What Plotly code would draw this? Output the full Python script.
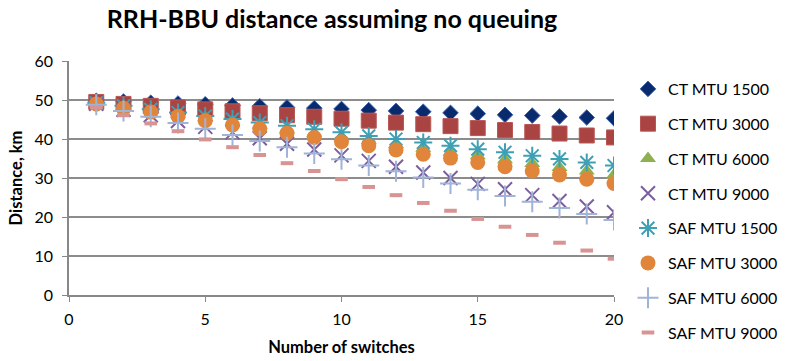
import plotly.graph_objects as go

switches = list(range(1, 21))

ct_mtu_1500 = [49.8, 49.6, 49.3, 49.1, 48.9, 48.6, 48.4, 48.1, 47.9, 47.7,
               47.4, 47.2, 47.0, 46.7, 46.5, 46.2, 46.0, 45.8, 45.5, 45.3]
ct_mtu_3000 = [49.5, 49.0, 48.5, 48.1, 47.6, 47.1, 46.6, 46.1, 45.7, 45.2,
               44.7, 44.2, 43.8, 43.3, 42.8, 42.3, 41.8, 41.4, 40.9, 40.4]
ct_mtu_6000 = [49.3, 48.3, 47.4, 46.4, 45.4, 44.4, 43.5, 42.5, 41.5, 40.5,
               39.6, 38.6, 37.6, 36.6, 35.7, 34.7, 33.7, 32.7, 31.8, 30.8]
ct_mtu_9000 = [49.0, 47.5, 46.1, 44.6, 43.1, 41.7, 40.2, 38.8, 37.3, 35.8,
               34.4, 32.9, 31.4, 30.0, 28.5, 27.1, 25.6, 24.1, 22.7, 21.2]
saf_mtu_1500 = [49.3, 48.5, 47.6, 46.8, 45.9, 45.1, 44.2, 43.4, 42.5, 41.7,
                40.8, 40.0, 39.1, 38.3, 37.4, 36.6, 35.7, 34.9, 34.0, 33.2]
saf_mtu_3000 = [49.0, 47.9, 46.9, 45.8, 44.7, 43.6, 42.6, 41.5, 40.4, 39.3,
                38.3, 37.2, 36.1, 35.1, 34.0, 32.9, 31.8, 30.8, 29.7, 28.6]
saf_mtu_6000 = [48.8, 47.2, 45.7, 44.1, 42.6, 41.0, 39.5, 37.9, 36.3, 34.8,
                33.2, 31.7, 30.1, 28.6, 27.0, 25.4, 23.9, 22.3, 20.8, 19.2]
saf_mtu_9000 = [48.1, 46.1, 44.0, 42.0, 39.9, 37.9, 35.9, 33.8, 31.8, 29.7,
                27.7, 25.6, 23.6, 21.6, 19.5, 17.5, 15.4, 13.4, 11.4, 9.3]

series = [
    ("CT MTU 1500", ct_mtu_1500, dict(symbol="diamond", size=12, color="#0A2A6E", line=dict(color="#3A64B0", width=1))),
    ("CT MTU 3000", ct_mtu_3000, dict(symbol="square", size=15, color="#A94443", line=dict(color="#B85856", width=1))),
    ("CT MTU 6000", ct_mtu_6000, dict(symbol="triangle-up", size=14, color="#8FB04E", line=dict(width=0))),
    ("CT MTU 9000", ct_mtu_9000, dict(symbol="x-thin-open", size=14, color="#7B5E9E", line=dict(color="#7B5E9E", width=2))),
    ("SAF MTU 1500", saf_mtu_1500, dict(symbol="asterisk-open", size=15, color="#3FA0B5", line=dict(color="#3FA0B5", width=2))),
    ("SAF MTU 3000", saf_mtu_3000, dict(symbol="circle", size=15, color="#E0853A", line=dict(width=0))),
    ("SAF MTU 6000", saf_mtu_6000, dict(symbol="cross-thin-open", size=15, color="#A0B4D8", line=dict(color="#A0B4D8", width=2))),
    ("SAF MTU 9000", saf_mtu_9000, dict(symbol="line-ew-open", size=9, color="#D89493", line=dict(color="#D89493", width=4))),
]

fig = go.Figure()
for i, (name, vals, marker) in enumerate(series):
    fig.add_trace(go.Scatter(x=switches, y=vals, mode="markers", name=name,
                             marker=marker, legendgroup=f"g{i}"))

font_family = "Lato, 'Open Sans', sans-serif"
fig.update_layout(
    width=788, height=361,
    margin=dict(l=69, r=174, t=61, b=66, autoexpand=False),
    paper_bgcolor="white", plot_bgcolor="white",
    font=dict(family=font_family, color="#000000"),
    title=dict(text="<b>RRH-BBU distance assuming no queuing</b>",
               x=332 / 788, xref="container", xanchor="center", y=1 - 19 / 361, yanchor="middle",
               font=dict(size=25, family=font_family, color="#000000")),
    xaxis=dict(range=[0, 20], dtick=5, tick0=0, showgrid=False, zeroline=False,
               showline=True, linecolor="#888888", linewidth=1.5, automargin=False,
               ticks="outside", ticklen=5, tickcolor="#888888", ticklabelstandoff=4,
               tickfont=dict(size=16),
               title=dict(text="<b>Number of switches</b>", font=dict(size=16.5), standoff=14)),
    yaxis=dict(range=[0, 60], dtick=10, tick0=0, showgrid=True, gridcolor="#8C8C8C", gridwidth=1.5,
               zeroline=False, showline=True, linecolor="#888888", linewidth=1.5, automargin=False,
               ticks="outside", ticklen=5, tickcolor="#888888", ticklabelstandoff=6,
               tickfont=dict(size=16),
               title=dict(text="<b>Distance, km</b>", font=dict(size=16.5), standoff=8)),
    legend=dict(x=(628 - 69) / 545, xanchor="left",
                yref="container", y=1 - 72 / 361, yanchor="top", maxheight=320,
                font=dict(size=16), tracegroupgap=11, itemwidth=30,
                bgcolor="rgba(0,0,0,0)"),
    showlegend=True,
)

fig.write_html("out.html", config={"displayModeBar": False},
               post_script="document.body.style.margin='0';")
